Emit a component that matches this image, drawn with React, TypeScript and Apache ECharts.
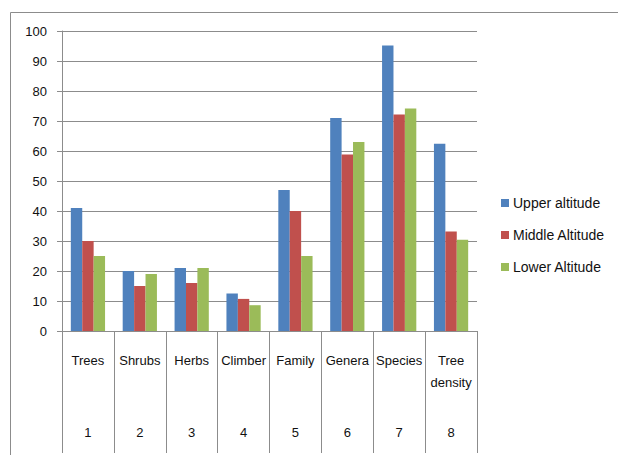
import React, { useEffect, useRef } from "react";
import * as echarts from "echarts";

const categories = ["Trees", "Shrubs", "Herbs", "Climber", "Family", "Genera", "Species", "Tree\ndensity"];
const categoryNumbers = ["1", "2", "3", "4", "5", "6", "7", "8"];
const seriesNames = ["Upper altitude", "Middle Altitude", "Lower Altitude"];
const upperAltitude = [41, 20, 21, 12.5, 47, 71, 95.2, 62.4];
const middleAltitude = [30, 15, 16, 10.7, 40, 58.8, 72.2, 33.2];
const lowerAltitude = [25, 19, 21, 8.6, 25, 63, 74.2, 30.4];
const colors = ["#4F81BD", "#C0504D", "#9BBB59"];

const FONT = "'Liberation Sans', Arial, sans-serif";
const TEXT = "#111111";

export default function App() {
  const ref = useRef<HTMLDivElement>(null);
  useEffect(() => {
    if (!ref.current) return;
    const chart = echarts.init(ref.current, null, { renderer: "svg" });
    const values = [upperAltitude, middleAltitude, lowerAltitude];
    chart.setOption({
      animation: false,
      backgroundColor: "#ffffff",
      textStyle: { fontFamily: FONT },
      graphic: [
        {
          type: "rect",
          shape: { x: 10.5, y: 12.5, width: 700, height: 500 },
          style: { fill: "none", stroke: "#8c8c8c", lineWidth: 1 },
          silent: true,
        },
      ],
      legend: {
        orient: "vertical",
        left: 496,
        top: 191,
        itemWidth: 8,
        itemHeight: 8,
        itemGap: 18,
        icon: "rect",
        textStyle: { fontSize: 14, color: TEXT, fontFamily: FONT, padding: [0, 0, 0, -1] },
        data: seriesNames,
      },
      grid: { left: 62, top: 31, width: 415, height: 300, containLabel: false },
      xAxis: [
        {
          type: "category",
          data: categories,
          position: "bottom",
          axisLine: { show: true, lineStyle: { color: "#8c8c8c", width: 1 } },
          axisTick: { show: true, length: 122, lineStyle: { color: "#8c8c8c", width: 1 } },
          axisLabel: {
            margin: 18,
            fontSize: 13,
            color: TEXT,
            fontFamily: FONT,
            verticalAlign: "top",
            lineHeight: 22,
            interval: 0,
          },
        },
        {
          type: "category",
          data: categoryNumbers,
          position: "bottom",
          axisLine: { show: false },
          axisTick: { show: false },
          axisLabel: {
            margin: 95,
            fontSize: 13,
            color: TEXT,
            fontFamily: FONT,
            verticalAlign: "top",
            interval: 0,
          },
        },
      ],
      yAxis: {
        type: "value",
        min: 0,
        max: 100,
        interval: 10,
        axisLine: { show: true, lineStyle: { color: "#8c8c8c", width: 1 } },
        axisTick: { show: true, length: 5, lineStyle: { color: "#8c8c8c" } },
        axisLabel: { fontSize: 13, color: TEXT, margin: 15, fontFamily: FONT },
        splitLine: { show: true, lineStyle: { color: "#8c8c8c", width: 1 } },
      },
      series: seriesNames.map((name, i) => ({
        name,
        type: "bar",
        xAxisIndex: 0,
        data: values[i],
        barGap: "0%",
        barCategoryGap: "34%",
        itemStyle: { color: colors[i] },
      })),
    });
    return () => chart.dispose();
  }, []);
  return (
    <div
      ref={ref}
      style={{ position: "fixed", left: 0, top: 0, width: 618, height: 455, background: "#fff" }}
    />
  );
}
